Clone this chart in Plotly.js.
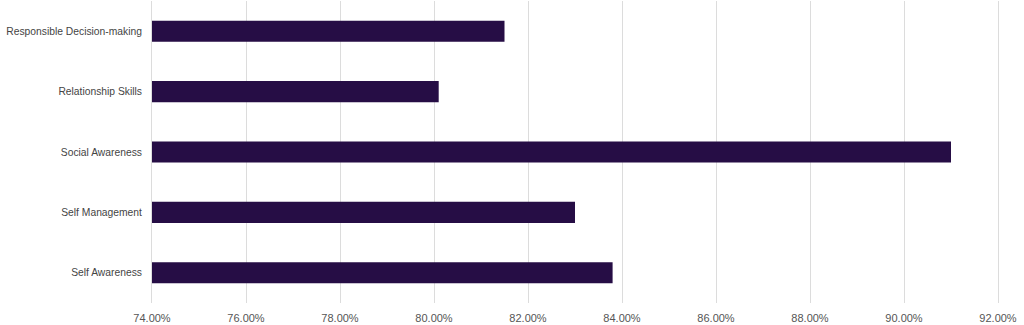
<!DOCTYPE html>
<html>
<head>
<meta charset="utf-8">
<script src="https://cdn.plot.ly/plotly-3.0.1.min.js"></script>
<style>html,body{margin:0;padding:0;background:#fff;}#chart{width:1024px;height:325px;}</style>
</head>
<body>
<div id="chart"></div>
<script>
const categories = ["Self Awareness", "Self Management", "Social Awareness", "Relationship Skills", "Responsible Decision-making"];
const values = [0.838, 0.830, 0.910, 0.801, 0.815];
const tickValues = [0.74, 0.76, 0.78, 0.80, 0.82, 0.84, 0.86, 0.88, 0.90, 0.92];

const trace = {
  type: 'bar',
  orientation: 'h',
  y: categories,
  x: values,
  base: 0,
  marker: {color: '#260d45', line: {width: 0}},
  hoverinfo: 'x+y'
};

const layout = {
  width: 1024, height: 325,
  margin: {l: 152, r: 26, t: 1, b: 22},
  paper_bgcolor: '#fff', plot_bgcolor: '#fff',
  bargap: 0.65,
  showlegend: false,
  font: {family: 'Liberation Sans, Arial, sans-serif', size: 11, color: '#555'},
  xaxis: {
    range: [0.74, 0.92],
    tickvals: tickValues,
    tickformat: '.2%',
    showgrid: true, gridcolor: '#dcdcdc', gridwidth: 1,
    zeroline: false, showline: false,
    ticks: 'outside', ticklen: 5, tickcolor: 'rgba(0,0,0,0)',
    tickfont: {size: 11, color: '#555'},
    fixedrange: true
  },
  yaxis: {
    categoryorder: 'array', categoryarray: categories,
    showgrid: false, zeroline: false,
    showline: true, linecolor: '#dcdcdc', linewidth: 1, mirror: true,
    ticks: 'outside', ticklen: 7, tickcolor: 'rgba(0,0,0,0)',
    tickfont: {size: 10.3, color: '#444'},
    fixedrange: true
  }
};

Plotly.newPlot('chart', [trace], layout, {displayModeBar: false, staticPlot: true});
</script>
</body>
</html>
